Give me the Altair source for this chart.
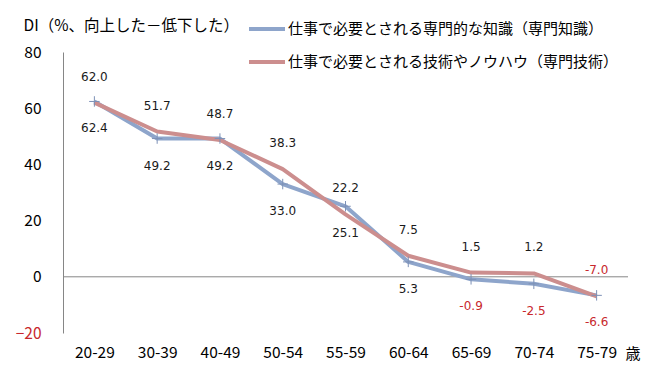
import altair as alt
import pandas as pd

ages = ["20-29", "30-39", "40-49", "50-54", "55-59", "60-64", "65-69", "70-74", "75-79"]
knowledge = [62.4, 49.2, 49.2, 33.0, 25.1, 5.3, -0.9, -2.5, -6.6]
skill = [62.0, 51.7, 48.7, 38.3, 22.2, 7.5, 1.5, 1.2, -7.0]
series_names = ["仕事で必要とされる専門的な知識（専門知識）",
                "仕事で必要とされる技術やノウハウ（専門技術）"]
colors = ["#8EA5CB", "#CC8E8E"]
y_title = "DI（%、向上した－低下した）"
x_title = "歳"
y_ticks = [-20, 0, 20, 40, 60, 80]

rows = []
for i, a in enumerate(ages):
    rows.append({"age": a, "series": series_names[0], "value": knowledge[i], "label": f"{knowledge[i]:.1f}"})
    rows.append({"age": a, "series": series_names[1], "value": skill[i], "label": f"{skill[i]:.1f}"})
df = pd.DataFrame(rows)
zero = pd.DataFrame({"z": [0]})

JP = "Noto Sans CJK JP"
NUM = "DejaVu Sans"
NEG_RED = "#C8282D"

x_enc = alt.X("age:N", sort=ages,
              axis=alt.Axis(title=x_title, titleAngle=0, titleX=562, titleY=20,
                            titleAlign="left", titleBaseline="middle",
                            titleFont=JP, titleFontSize=15, titleFontWeight="normal",
                            titleColor="#000000",
                            labelAngle=0, domain=False, ticks=False, labelPadding=12,
                            labelFont=JP, labelFontSize=15.5, labelColor="#000000"))
y_scale = alt.Scale(domain=[-20, 80], nice=False, zero=False)
y_enc = alt.Y("value:Q", scale=y_scale,
              axis=alt.Axis(title=y_title, titleAngle=0, titleX=-40, titleY=-27,
                            titleAlign="left", titleBaseline="middle",
                            titleFont=JP, titleFontSize=15.5, titleFontWeight="normal",
                            titleColor="#000000",
                            values=y_ticks, grid=False, ticks=False,
                            domainColor="#868686", domainWidth=1, labelPadding=22,
                            labelFont=JP, labelFontSize=15.5,
                            labelColor=alt.condition("datum.value < 0", alt.value(NEG_RED), alt.value("#000000"))))

base = alt.Chart(df)

zero_rule = alt.Chart(zero).mark_rule(color="#868686", strokeWidth=1).encode(
    y=alt.Y("z:Q", scale=y_scale))

lines = base.mark_line(strokeWidth=4, strokeJoin="round").encode(
    x=x_enc, y=y_enc,
    color=alt.Color("series:N", sort=series_names,
                    scale=alt.Scale(domain=series_names, range=colors),
                    legend=alt.Legend(orient="none", legendX=184, legendY=-43, title=None,
                                      symbolType="stroke", symbolSize=1296, symbolStrokeWidth=4,
                                      labelFont=JP, labelFontSize=15, labelColor="#000000",
                                      labelOffset=1, labelLimit=0, rowPadding=5)),
    order=alt.Order("age:N"))

markers = base.transform_filter(alt.datum.series == series_names[0]).mark_point(
    shape="M-1,0L1,0M0,-1L0,1", size=110, filled=False, strokeWidth=1,
    color="#7D91B7", opacity=1).encode(x=x_enc, y=y_enc)

lab_k = base.transform_filter(alt.datum.series == series_names[0]).mark_text(
    dy=27, font=NUM, fontSize=12).encode(
    x=x_enc, y=y_enc, text="label:N",
    color=alt.condition("datum.value < 0", alt.value(NEG_RED), alt.value("#1A1A1A")))

lab_s = base.transform_filter(alt.datum.series == series_names[1]).mark_text(
    dy=-26, font=NUM, fontSize=12).encode(
    x=x_enc, y=y_enc, text="label:N",
    color=alt.condition("datum.value < 0", alt.value(NEG_RED), alt.value("#1A1A1A")))

chart = alt.layer(zero_rule, lines, markers, lab_k, lab_s).properties(
    width=565, height=281,
    autosize=alt.AutoSizeParams(type="none"),
    padding={"left": 55, "top": 44, "right": 33, "bottom": 36},
    background="#FFFFFF"
).configure_view(stroke=None)

chart.save("out.html", embed_options={"renderer": "svg", "actions": False})
